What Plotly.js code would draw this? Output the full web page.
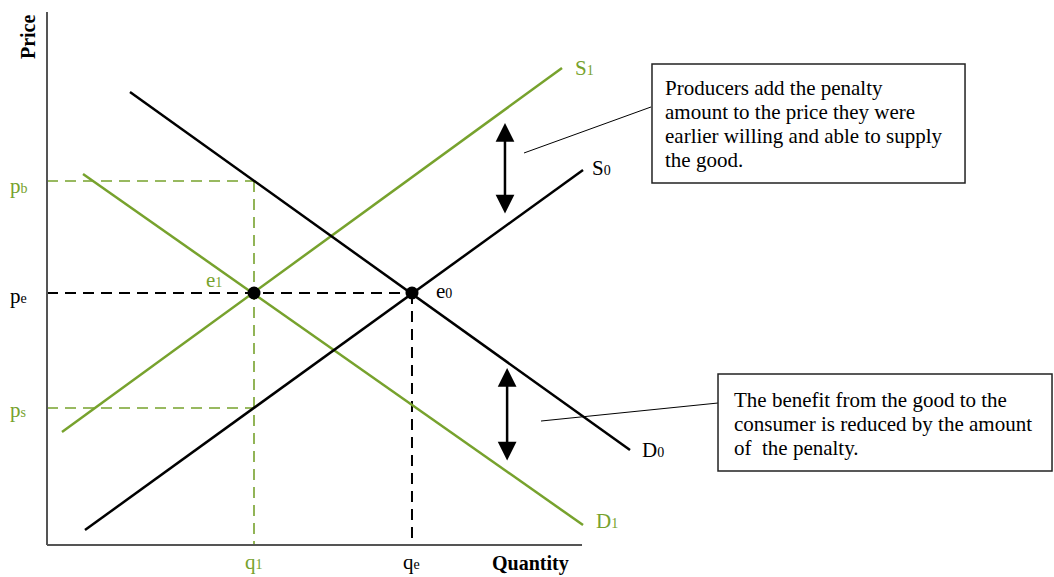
<!DOCTYPE html>
<html>
<head>
<meta charset="utf-8">
<script src="https://cdn.plot.ly/plotly-3.0.1.min.js"></script>
<style>html,body{margin:0;padding:0;background:#fff;}#chart{width:1054px;height:577px;}</style>
</head>
<body>
<div id="chart"></div>
<script>
// Curves (quantity, price)
const s0Q = [7.10, 100.19];  const s0P = [2.81, 70.36];
const d0Q = [15.51, 108.97]; const d0P = [84.99, 17.82];
const s1Q = [2.80, 96.26];   const s1P = [21.20, 89.49];
const d1Q = [6.73, 100.19];  const d1P = [69.61, 3.75];
// Equilibria e0, e1
const eqQ = [68.22, 38.69];  const eqP = [47.28, 47.28];
// Price levels pb, pe, ps
const priceLevels = [68.29, 47.28, 25.70];
// Quantity levels q1, qe
const qtyLevels = [38.69, 68.22];
// Axis extent
const axisMax = [100, 100];
// Penalty arrows (quantity, price from, price to)
const arrowQ = [85.6, 86.0];
const arrowP0 = [61.91, 15.57];
const arrowP1 = [79.17, 33.20];
// Callout boxes
const box1Lines = ['Producers add the penalty', 'amount to the price they were',
  'earlier willing and able to supply', 'the good.'];
const box2Lines = ['The benefit from the good to the', 'consumer is reduced by the amount', 'of  the penalty.'];
const boxQ0 = [113.08, 125.42]; const boxQ1 = [171.59, 187.85];
const boxP0 = [67.92, 13.88];   const boxP1 = [90.24, 32.08];
const calloutQ0 = [89.16, 92.34]; const calloutP0 = [73.55, 23.26];
const calloutQ1 = [112.9, 125.42]; const calloutP1 = [82.18, 26.64];

const GREEN = '#77a22d';
const BLACK = '#000000';
const SERIF = 'Liberation Serif, Times New Roman, serif';
const DASH = '11px,7px';
const FS = 21;
function sub(main, s) { return main + '<span style="font-size:14px">' + s + '</span>'; }

const traces = [];
function line(x, y, color, width, dash) {
  traces.push({x: x, y: y, mode: 'lines', type: 'scatter', hoverinfo: 'skip',
    line: {color: color, width: width, dash: dash || 'solid'}, showlegend: false});
}
// guide dashed lines
line([0, qtyLevels[0]], [priceLevels[0], priceLevels[0]], GREEN, 1.6, DASH);
line([0, qtyLevels[0]], [priceLevels[2], priceLevels[2]], GREEN, 1.6, DASH);
line([qtyLevels[0], qtyLevels[0]], [priceLevels[0], 0], GREEN, 1.6, DASH);
line([0, qtyLevels[1]], [priceLevels[1], priceLevels[1]], BLACK, 2, DASH);
line([qtyLevels[1], qtyLevels[1]], [priceLevels[1], 0], BLACK, 2, DASH);
// axes
line([0, 0], [0, axisMax[1]], '#555555', 2);
line([0, axisMax[0]], [0, 0], '#555555', 2);
// curves
line(s1Q, s1P, GREEN, 2.5);
line(d1Q, d1P, GREEN, 2.5);
line(s0Q, s0P, BLACK, 2.5);
line(d0Q, d0P, BLACK, 2.5);
// callout leader lines
for (let i = 0; i < 2; i++) line([calloutQ0[i], calloutQ1[i]], [calloutP0[i], calloutP1[i]], BLACK, 1);
// equilibrium points
traces.push({x: eqQ, y: eqP, mode: 'markers', type: 'scatter', hoverinfo: 'skip', showlegend: false,
  marker: {color: BLACK, size: 13}});

const annotations = [];
function label(x, y, text, color, opts) {
  annotations.push(Object.assign({x: x, y: y, xref: 'x', yref: 'y', text: text, showarrow: false,
    xanchor: 'left', font: {family: SERIF, size: FS, color: color}}, opts || {}));
}
label(-7.3, priceLevels[0] - 0.9, sub('p', 'b'), GREEN);
label(-7.3, priceLevels[1] - 0.5, sub('p', 'e'), BLACK);
label(-7.3, priceLevels[2] - 0.4, sub('p', 's'), GREEN);
label(qtyLevels[0], -3.2, sub('q', '1'), GREEN, {xanchor: 'center'});
label(qtyLevels[1], -3.2, sub('q', 'e'), BLACK, {xanchor: 'center'});
label(eqQ[0] + 4.1, eqP[0] + 0.4, sub('e', '0'), BLACK);
label(eqQ[1] - 9.3, eqP[1] + 2.4, sub('e', '1'), GREEN);
label(s1Q[1] + 2.0, s1P[1], sub('S', '1'), GREEN);
label(s0Q[1] + 1.3, s0P[1] + 0.4, sub('S', '0'), BLACK);
label(d0Q[1] + 1.9, d0P[1], sub('D', '0'), BLACK);
label(d1Q[1] + 2.0, d1P[1] + 0.7, sub('D', '1'), GREEN);
label(90.28, -3.55, '<b>Quantity</b>', BLACK, {xanchor: 'center', font: {family: SERIF, size: 20, color: BLACK}});
label(-3.55, 95.3, '<b>Price</b>', BLACK, {xanchor: 'center', textangle: -90, font: {family: SERIF, size: 20, color: BLACK}});
// box texts, one annotation per line
const lineStep = 24 / 5.33;
box1Lines.forEach((t, j) => label(boxQ0[0] + 2.0, (545 - 88) / 5.33 - j * lineStep, t, BLACK));
box2Lines.forEach((t, j) => label(boxQ0[1] + 2.6, (545 - 400) / 5.33 - j * lineStep, t, BLACK));
// penalty arrows
for (let i = 0; i < 2; i++) {
  annotations.push({x: arrowQ[i], y: arrowP1[i], ax: arrowQ[i], ay: arrowP0[i], xref: 'x', yref: 'y',
    axref: 'x', ayref: 'y', showarrow: true, arrowside: 'end+start', arrowhead: 2, startarrowhead: 2,
    arrowsize: 1.5, startarrowsize: 1.5, arrowwidth: 2.5, arrowcolor: BLACK, text: '', standoff: 0, startstandoff: 0});
}

const shapes = [];
for (let i = 0; i < 2; i++) {
  shapes.push({type: 'rect', xref: 'x', yref: 'y', x0: boxQ0[i], x1: boxQ1[i], y0: boxP0[i], y1: boxP1[i],
    line: {color: '#222222', width: 1.5}, fillcolor: 'rgba(0,0,0,0)'});
}

const layout = {
  width: 1054, height: 577,
  margin: {l: 0, r: 0, t: 0, b: 0},
  paper_bgcolor: '#ffffff', plot_bgcolor: '#ffffff',
  xaxis: {range: [-8.785, 188.22], visible: false, fixedrange: true},
  yaxis: {range: [-6.004, 102.25], visible: false, fixedrange: true},
  showlegend: false,
  annotations: annotations,
  shapes: shapes
};
Plotly.newPlot('chart', traces, layout, {staticPlot: true});
</script>
</body>
</html>
